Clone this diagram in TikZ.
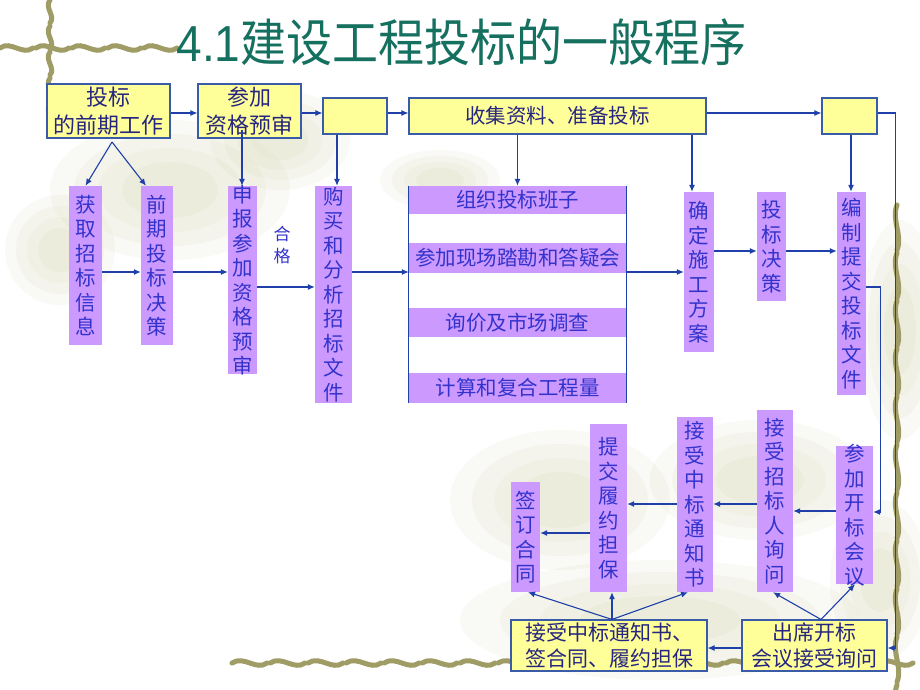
\documentclass[tikz,border=0pt]{standalone}
\usepackage{fontspec}
\setmainfont{Noto Sans CJK SC}
\newfontfamily\latinf{Liberation Sans}
\usetikzlibrary{arrows.meta,calc}
\definecolor{pfill}{HTML}{CC99FF}
\definecolor{yfill}{HTML}{FFFF99}
\definecolor{ybord}{HTML}{3A5BA8}
\definecolor{arrc}{HTML}{1E40A8}
\definecolor{ptext}{HTML}{3333CC}
\definecolor{ytext}{HTML}{262680}
\definecolor{ttl}{HTML}{16705F}
\definecolor{vinec}{HTML}{A09C66}
\definecolor{blotc}{HTML}{D8D6B2}
\newcommand\softblot[4]{%
  \foreach \s in {1,0.8,0.6,0.4}{%
    \fill[blotc, opacity=0.13] (#1,#2) ellipse [x radius=\s*#3 pt, y radius=\s*#4 pt];
  }%
}
\begin{document}
\begin{tikzpicture}[x=1pt,y=-1pt,
  ybox/.style={draw=ybord, line width=1.1pt, fill=yfill, text=ytext, inner sep=0pt, align=center, font=\fontsize{22}{28}\selectfont},
  pbox/.style={fill=pfill, inner sep=0pt},
  ptxt/.style={text=ptext, inner sep=0pt, align=center, font=\fontsize{20.5}{24.5}\selectfont},
  vlab/.style={label={[ptxt]center:#1}},
  band/.style={fill=pfill, text=ptext, inner sep=0pt, minimum width=217pt, font=\fontsize{20.5}{24}\selectfont},
  arr/.style={draw=arrc, line width=1.1pt, -{Latex[length=7pt,width=6pt]}},
  ln/.style={draw=arrc, line width=1.1pt},
  vine/.style={draw=vinec, line width=5pt, line cap=round},
]
\useasboundingbox (0,0) rectangle (920,690);
\fill[white] (0,0) rectangle (920,690);
% background blotches
\softblot{170}{190}{120}{70}
\softblot{280}{140}{70}{50}
\softblot{60}{250}{55}{55}
\softblot{440}{180}{60}{30}
\softblot{560}{500}{110}{70}
\softblot{760}{480}{110}{60}
\softblot{660}{620}{200}{60}
\softblot{900}{330}{40}{110}
\softblot{880}{580}{50}{80}
% vines
\foreach \i in {0,...,4}{
  \pgfmathsetmacro\a{\i*36}
  \draw[vine] (\a,48) .. controls (\a+11,40) and (\a+22,56) .. (\a+33,48);
}
\foreach \i in {0,...,4}{
  \pgfmathsetmacro\b{\i*26}
  \draw[vine] (50,\b) .. controls (44,\b+8) and (56,\b+16) .. (50,\b+23);
}
\foreach \i in {0,...,17}{
  \pgfmathsetmacro\a{232+\i*38}
  \draw[vine] (\a,663) .. controls (\a+12,655) and (\a+24,671) .. (\a+35,663);
}
\foreach \i in {0,...,10}{
  \pgfmathsetmacro\b{205+\i*48}
  \draw[vine] (897,\b) .. controls (891,\b+15) and (903,\b+30) .. (897,\b+45);
}
% title
\node[text=ttl, font=\fontsize{46}{50}\selectfont, anchor=base, inner sep=0pt, yscale=1.1] (title) at (461.5,62) {{\latinf 4.1}建设工程投标的一般程序};
% yellow boxes
\node[ybox, minimum width=123pt, minimum height=54pt] (b1) at (108.5,111) {投标\\的前期工作};
\node[ybox, minimum width=103pt, minimum height=54pt] (b2) at (249.5,111) {参加\\资格预审};
\node[ybox, minimum width=64pt, minimum height=36pt] (b3) at (355,116) {};
\node[ybox, minimum width=297pt, minimum height=36pt, font=\fontsize{20.5}{24}\selectfont] (b4) at (557.5,116) {收集资料、准备投标};
\node[ybox, minimum width=55pt, minimum height=36pt] (b5) at (849.5,116) {};
\node[ybox, minimum width=196pt, minimum height=51pt, font=\fontsize{21}{26}\selectfont] (b6) at (609,645.5) {接受中标通知书、\\签合同、履约担保};
\node[ybox, minimum width=145pt, minimum height=51pt, font=\fontsize{21}{26}\selectfont] (b7) at (814.5,645.5) {出席开标\\会议接受询问};
% purple columns
\node[pbox, minimum width=33pt, minimum height=159pt, vlab={获\\取\\招\\标\\信\\息}] (p1) at (85.5,265.5) {};
\node[pbox, minimum width=32pt, minimum height=159pt, vlab={前\\期\\投\\标\\决\\策}] (p2) at (157,265.5) {};
\node[pbox, minimum width=29pt, minimum height=188pt, vlab={申\\报\\参\\加\\资\\格\\预\\审}] (p3) at (242.5,280) {};
\node[pbox, minimum width=37pt, minimum height=217pt, vlab={购\\买\\和\\分\\析\\招\\标\\文\\件}] (p4) at (333.5,294.5) {};
\node[pbox, minimum width=30pt, minimum height=160pt, vlab={确\\定\\施\\工\\方\\案}] (p5) at (699,272) {};
\node[pbox, minimum width=29pt, minimum height=109pt, vlab={投\\标\\决\\策}] (p6) at (771.5,246.5) {};
\node[pbox, minimum width=29pt, minimum height=203pt, vlab={编\\制\\提\\交\\投\\标\\文\\件}] (p7) at (851.5,293.5) {};
\node[pbox, minimum width=29pt, minimum height=110pt, vlab={签\\订\\合\\同}] (q1) at (525.5,537) {};
\node[pbox, minimum width=37pt, minimum height=168pt, vlab={提\\交\\履\\约\\担\\保}] (q2) at (608.5,508) {};
\node[pbox, minimum width=36pt, minimum height=175pt, vlab={接\\受\\中\\标\\通\\知\\书}] (q3) at (695,504.5) {};
\node[pbox, minimum width=36pt, minimum height=182pt, vlab={接\\受\\招\\标\\人\\询\\问}] (q4) at (775,501) {};
\node[pbox, minimum width=37pt, minimum height=138pt, vlab={参\\加\\开\\标\\会\\议}] (q5) at (854.5,515) {};
% big box with bands
\node[inner sep=0pt, minimum width=217pt, minimum height=217pt] (big) at (517.5,294.5) {};
\node[band, minimum height=28pt] (g1) at (517.5,200) {组织投标班子};
\node[band, minimum height=30pt] (g2) at (517.5,258) {参加现场踏勘和答疑会};
\node[band, minimum height=29pt] (g3) at (517.5,322.5) {询价及市场调查};
\node[band, minimum height=30pt] (g4) at (517.5,388) {计算和复合工程量};
\draw[ln] (big.north west) -- (big.south west);
\draw[ln] (big.north east) -- (big.south east);
% label
\node[text=ptext, inner sep=0pt, align=center, font=\fontsize{17}{22}\selectfont] (hg) at (282,245) {合\\格};
% connectors: top row
\draw[arr] (b1.east |- 0,113) -- (b2.west |- 0,113);
\draw[arr] (b2.east |- 0,113) -- (b3.west |- 0,113);
\draw[arr] (b3.east |- 0,113) -- (b4.west |- 0,113);
\draw[arr] (b4.east |- 0,113) -- (b5.west |- 0,113);
\draw[arr] (b5.east |- 0,113) -- ++(18,0) |- (b7.east |- 0,648);
% down connectors
\coordinate (b1s) at (112,142);
\draw[arr] (b1s) -- (p1.north);
\draw[arr] (b1s) -- (p2.north -| 146,0);
\coordinate (b2s) at (242,130);
\draw[arr] (b2s) -- (p3.north -| 242,0);
\draw[arr] (b3.south -| 337,0) -- (p4.north -| 337,0);
\draw[arr] (b4.south -| g1.north) -- (g1.north);
\draw[arr] (b4.south -| 692,0) -- (p5.north -| 692,0);
\draw[arr] (b5.south -| 851,0) -- (p7.north -| 851,0);
% middle row
\draw[arr] (p1.east |- 0,272) -- (p2.west |- 0,272);
\draw[arr] (p2.east |- 0,272) -- (p3.west |- 0,272);
\draw[arr] (p3.east |- 0,287) -- (p4.west |- 0,287);
\draw[arr] (p4.east |- 0,272) -- (big.west |- 0,272);
\draw[arr] (big.east |- 0,272) -- (p5.west |- 0,272);
\draw[arr] (p5.east |- 0,251) -- (p6.west |- 0,251);
\draw[arr] (p6.east |- 0,251) -- (p7.west |- 0,251);
\draw[arr] (p7.east |- 0,287) -- ++(14,0) |- (q5.east |- 0,512);
% bottom row
\draw[arr] (q5.west |- 0,511) -- (q4.east |- 0,511);
\draw[arr] (q4.west |- 0,504) -- (q3.east |- 0,504);
\draw[arr] (q3.west |- 0,504) -- (q2.east |- 0,504);
\draw[arr] (q2.west |- 0,533) -- (q1.east |- 0,533);
\draw[arr] (b7.west |- 0,648) -- (b6.east |- 0,648);
\draw[arr] (b7.north -| 821,0) -- (q4.south -| 773,0);
\draw[arr] (b7.north -| 821,0) -- (q5.south -| 855,0);
\draw[arr] (b6.north -| 612,0) -- (q1.south -| 528,0);
\draw[arr] (b6.north -| 612,0) -- (q2.south -| 612,0);
\draw[arr] (b6.north -| 612,0) -- (q3.south -| 688,0);
\end{tikzpicture}
\end{document}
